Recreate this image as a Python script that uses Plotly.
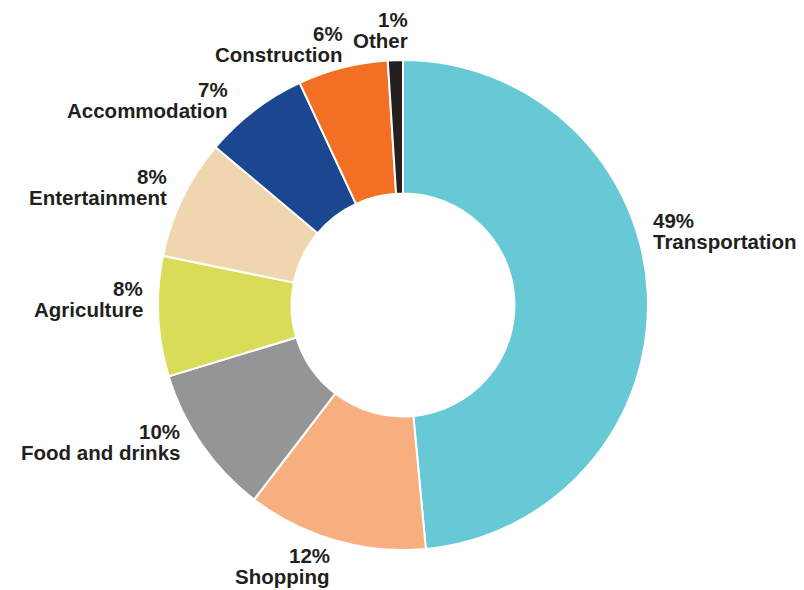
import plotly.graph_objects as go

# ---- data ----
categories = ["Transportation", "Shopping", "Food and drinks", "Agriculture",
              "Entertainment", "Accommodation", "Construction", "Other"]
shares = [49, 12, 10, 8, 8, 7, 6, 1]
colors = ["#68C9D6", "#F7AF80", "#949597", "#D9DC58",
          "#EFD6AF", "#1B4690", "#F26F24", "#231F20"]

# ---- layout constants ----
W, H = 804, 590
FONT = "Liberation Sans, Arial, sans-serif"
FS = 20.5
TXT = "#231F20"
# label block anchors (pixels): (x, baseline of first line, xanchor)
label_anchor = {
    "Transportation": (652, 228, "left"),
    "Shopping": (331, 563, "right"),
    "Food and drinks": (181, 439, "right"),
    "Agriculture": (144, 296, "right"),
    "Entertainment": (168, 184, "right"),
    "Accommodation": (229, 97, "right"),
    "Construction": (344, 41, "right"),
    "Other": (409, 27, "right"),
}
LINE = 20.5

fig = go.Figure(go.Pie(
    labels=categories,
    values=shares,
    marker=dict(colors=colors, line=dict(color="white", width=2)),
    hole=0.455,
    sort=False,
    direction="clockwise",
    rotation=0,
    textinfo="none",
    hoverinfo="label+percent",
    domain=dict(x=[158 / W, 648 / W], y=[1 - 550 / H, 1 - 60 / H]),
    showlegend=False,
))

annotations = []
for cat, val in zip(categories, shares):
    x, base, anchor = label_anchor[cat]
    for i, txt in enumerate([f"{val}%", cat]):
        b = base + i * LINE
        mid = b - 0.35 * FS
        annotations.append(dict(
            text=f"<b>{txt}</b>", x=x / W, y=1 - mid / H,
            xref="paper", yref="paper", xanchor=anchor, yanchor="middle",
            showarrow=False, borderpad=0,
            font=dict(family=FONT, size=FS, color=TXT),
        ))

fig.update_layout(
    width=W, height=H,
    margin=dict(l=0, r=0, t=0, b=0),
    paper_bgcolor="white", plot_bgcolor="white",
    annotations=annotations,
)

fig.write_html("out.html")
